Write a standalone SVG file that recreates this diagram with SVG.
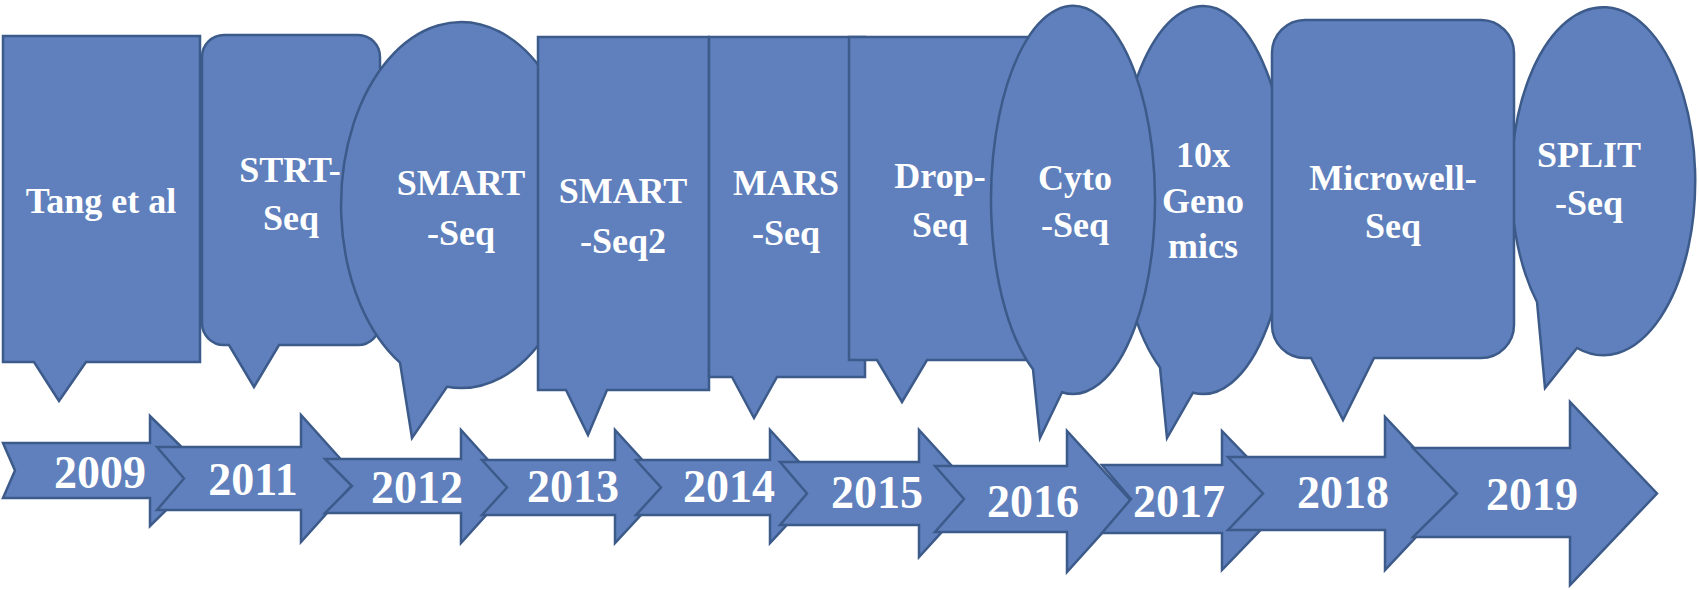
<svg xmlns="http://www.w3.org/2000/svg" width="1699" height="590" viewBox="0 0 1699 590">
<style>
.s{fill:#5f80bc;stroke:#3c5a8a;stroke-width:2.5;stroke-linejoin:miter}
.t{fill:#ffffff;font-family:'Liberation Serif','Times New Roman',serif;font-weight:bold;font-size:36px;text-anchor:middle}
.y{fill:#ffffff;font-family:'Liberation Serif','Times New Roman',serif;font-weight:bold;font-size:46px;text-anchor:middle}
</style>
<rect width="1699" height="590" fill="#ffffff"/>
<g id="connectors">
<g id="a2009"><path class="s" d="M3,443 H150 V416 L206,471 L150,526 V498 H3 L15,470.5 Z"/><text class="y" x="100" y="488">2009</text></g>
<g id="a2011"><path class="s" d="M157,447 H301 V415 L358,478.5 L301,542 V510 H157 L184,478.5 Z"/><text class="y" x="253" y="495">2011</text></g>
<g id="a2012"><path class="s" d="M325,459 H461 V430 L512,486.5 L461,543 V513 H325 L352,486 Z"/><text class="y" x="417" y="503">2012</text></g>
<g id="a2013"><path class="s" d="M482,460 H615 V430 L667,487 L615,543 V515 H482 L507,487.5 Z"/><text class="y" x="573" y="502">2013</text></g>
<g id="a2014"><path class="s" d="M636,460 H770 V430 L822,487 L770,543 V515 H636 L661,487.5 Z"/><text class="y" x="729" y="502">2014</text></g>
<g id="a2015"><path class="s" d="M780,462 H919 V430 L977,493.5 L919,557 V525 H780 L807,493.5 Z"/><text class="y" x="877" y="508">2015</text></g>
<g id="a2016"><path class="s" d="M935,466 H1067 V431 L1131,501 L1067,572 V532 H935 L964,499 Z"/><text class="y" x="1033" y="517">2016</text></g>
<g id="a2017"><path class="s" d="M1102,465 H1222 V431 L1289,500.5 L1222,570 V533 H1102 L1131,499 Z"/><text class="y" x="1179" y="517">2017</text></g>
<g id="a2018"><path class="s" d="M1228,457 H1385 V417 L1457,493.5 L1385,570 V530 H1228 L1263,493.5 Z"/><text class="y" x="1343" y="508">2018</text></g>
<g id="a2019"><path class="s" d="M1413,448 H1570 V402 L1657,493.5 L1570,585 V537 H1413 L1457,493.5 Z"/><text class="y" x="1532" y="510">2019</text></g>
</g>
<g id="tang"><path class="s" d="M3,36 H200 V362 H86 L59,401 L34,362 H3 Z"/><text class="t" x="101" y="213">Tang et al</text></g>
<g id="strt"><path class="s" d="M224,35 H358 A22,22 0 0 1 380,57 V323 A22,22 0 0 1 358,345 H279 L254,387 L229,345 H224 A22,22 0 0 1 202,323 V57 A22,22 0 0 1 224,35 Z"/><text class="t" x="290" y="182">STRT-</text><text class="t" x="291" y="230">Seq</text></g>
<g id="smartseq"><path class="s" d="M447,386.8 A120,183 0 1 0 400,362.6 L412,438 Z"/><text class="t" x="461" y="195">SMART</text><text class="t" x="461" y="245">-Seq</text></g>
<g id="smartseq2"><path class="s" d="M538,37 H709 V390 H607 L588,435 L566,390 H538 Z"/><text class="t" x="623" y="203">SMART</text><text class="t" x="623" y="253">-Seq2</text></g>
<g id="mars"><path class="s" d="M709,37 H865 V377 H777 L754,418 L732,377 H709 Z"/><text class="t" x="786" y="195">MARS</text><text class="t" x="786" y="245">-Seq</text></g>
<g id="dropseq"><path class="s" d="M849,37 H1033 V360 H927 L902,402 L877,360 H849 Z"/><text class="t" x="940" y="188">Drop-</text><text class="t" x="940" y="237">Seq</text></g>
<g id="tenx"><path class="s" d="M1193,392.7 A85,194 0 1 0 1160,367.4 L1167,438 Z"/><text class="t" x="1203" y="167">10x</text><text class="t" x="1203" y="213">Geno</text><text class="t" x="1203" y="258">mics</text></g>
<g id="cyto"><path class="s" d="M1062,392.2 A82,194 0 1 0 1033,369.3 L1040,438 Z"/><text class="t" x="1075" y="190">Cyto</text><text class="t" x="1075" y="237">-Seq</text></g>
<g id="split"><path class="s" d="M1577,348 A92,174 0 1 0 1537,302 L1545,388 Z"/><text class="t" x="1589" y="167">SPLIT</text><text class="t" x="1589" y="215">-Seq</text></g>
<g id="microwell"><path class="s" d="M1305,20 H1481 A33,33 0 0 1 1514,53 V325 A33,33 0 0 1 1481,358 H1374 L1343,420 L1311,358 H1305 A33,33 0 0 1 1272,325 V53 A33,33 0 0 1 1305,20 Z"/><text class="t" x="1393" y="190">Microwell-</text><text class="t" x="1393" y="238">Seq</text></g>
</svg>
